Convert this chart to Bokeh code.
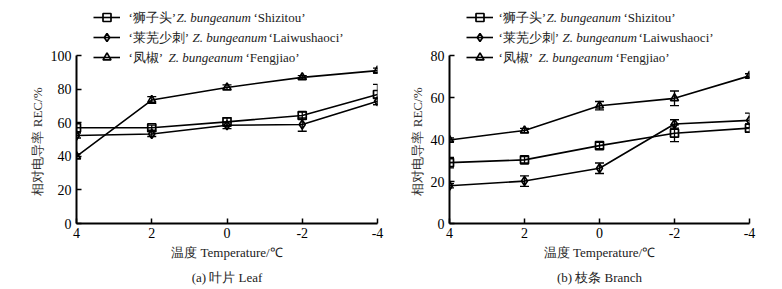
from bokeh.plotting import figure
from bokeh.layouts import row
from bokeh.models import (Range1d, Whisker, TeeHead, ColumnDataSource, Label,
                          Legend, LegendItem, FixedTicker, Title)
from bokeh.embed import file_html
from bokeh.resources import INLINE

# ---------------- data ----------------
temps = [4, 2, 0, -2, -4]
x_ticks = [4, 2, 0, -2, -4]
x_tick_labels = ["4", "2", "0", "-2", "-4"]

names_cn = ["‘狮子头’", "‘莱芜少刺’", "‘凤椒’"]
names_latin = ["Z. bungeanum", "Z. bungeanum", "Z. bungeanum"]
names_en = ["‘Shizitou’", "‘Laiwushaoci’", "‘Fengjiao’"]
markers = ["square", "diamond", "triangle"]

# (a) Leaf
leaf_shizitou = [57.0, 57.0, 60.5, 64.3, 76.8]
leaf_shizitou_err = [3.0, 1.5, 2.5, 2.0, 6.0]
leaf_laiwushaoci = [52.4, 53.3, 58.5, 58.9, 72.8]
leaf_laiwushaoci_err = [1.5, 1.5, 2.0, 4.0, 2.0]
leaf_fengjiao = [40.0, 73.5, 81.0, 87.0, 91.0]
leaf_fengjiao_err = [1.5, 2.0, 1.5, 1.0, 1.5]
leaf_yticks = [0, 20, 40, 60, 80, 100]

# (b) Branch
branch_shizitou = [29.0, 30.3, 37.1, 43.0, 45.4]
branch_shizitou_err = [2.5, 1.5, 1.5, 4.0, 2.0]
branch_laiwushaoci = [18.0, 20.2, 26.3, 47.4, 49.1]
branch_laiwushaoci_err = [1.0, 2.5, 2.5, 2.0, 3.5]
branch_fengjiao = [39.8, 44.3, 56.1, 59.6, 70.3]
branch_fengjiao_err = [1.0, 1.0, 2.0, 3.5, 1.0]
branch_yticks = [0, 20, 40, 60, 80]

x_label = "温度 Temperature/℃"
y_label = "相对电导率 REC/%"
captions = ["(a) 叶片 Leaf", "(b) 枝条 Branch"]

FONT = "Liberation Serif"
W, H = 391, 289
TOP, BOTTOM = 5, 66
MARKER_SIZE = {"square": 8, "diamond": 9, "triangle": 8}


def make_panel(series, errs, yticks, caption, min_left, min_right, text_gap):
    frame_w = W - min_left - min_right
    frame_h = H - TOP - BOTTOM
    y_axis_max = yticks[-1]
    px_per_y = 168.0 / y_axis_max
    y_top = frame_h / px_per_y
    px_per_x = frame_w / 8.0

    def xd(px):  # pixel offset from frame left -> data x
        return 4 - px / px_per_x

    def yd(py):  # pixel offset from frame top -> data y
        return (frame_h - py) / px_per_y

    p = figure(width=W, height=H, x_range=Range1d(4, -4), y_range=Range1d(0, y_top),
               output_backend="svg", toolbar_location=None,
               min_border_left=min_left, min_border_right=min_right,
               min_border_top=TOP, min_border_bottom=BOTTOM)
    p.outline_line_color = None
    p.grid.visible = False
    p.background_fill_color = "white"

    for ax in (p.xaxis[0], p.yaxis[0]):
        ax.axis_line_width = 2
        ax.axis_line_color = "black"
        ax.major_tick_line_width = 1.5
        ax.major_tick_line_color = "black"
        ax.major_tick_in = 5
        ax.major_tick_out = 0
        ax.minor_tick_line_color = None
        ax.major_label_text_font = FONT
        ax.major_label_text_font_size = "14px"
        ax.major_label_text_color = "black"
    p.xaxis.ticker = FixedTicker(ticks=x_ticks)
    p.xaxis.major_label_overrides = {t: s for t, s in zip(x_ticks, x_tick_labels)}
    p.xaxis.bounds = (-4, 4)
    p.xaxis.major_label_standoff = 4
    p.xaxis.axis_label = x_label
    p.xaxis.axis_label_text_font = FONT
    p.xaxis.axis_label_text_font_style = "normal"
    p.xaxis.axis_label_text_font_size = "13px"
    p.xaxis.axis_label_text_color = "#222222"
    p.xaxis.axis_label_standoff = 4
    p.yaxis.ticker = FixedTicker(ticks=yticks)
    p.yaxis.bounds = (0, y_axis_max)
    p.yaxis.major_label_standoff = 5

    p.add_layout(Title(text=caption, align="center", text_font=FONT,
                       text_font_size="13px", text_font_style="normal",
                       text_color="#222222"), "below")
    # y-axis title as a left-side title, anchored near the bottom of the axis
    p.add_layout(Title(text=y_label, align="left", offset=28, standoff=6,
                       text_font=FONT, text_font_size="13px",
                       text_font_style="normal", text_color="#333333"), "left")

    items = []
    for (vals, err, mk) in zip(series, errs, markers):
        src = ColumnDataSource(dict(x=temps, y=vals,
                                    upper=[v + e for v, e in zip(vals, err)],
                                    lower=[v - e for v, e in zip(vals, err)]))
        w = Whisker(base="x", upper="upper", lower="lower", source=src,
                    line_color="black", line_width=1.3, level="glyph",
                    upper_head=TeeHead(size=9, line_width=1.3, line_color="black"),
                    lower_head=TeeHead(size=9, line_width=1.3, line_color="black"))
        p.add_layout(w)
        rl = p.line("x", "y", source=src, line_color="black", line_width=1.6)
        rs = p.scatter("x", "y", source=src, marker=mk, size=MARKER_SIZE[mk],
                       fill_alpha=0, line_color="black", line_width=1.7)
        items.append(LegendItem(label=" ", renderers=[rl, rs]))

    leg = Legend(items=items, location=(17, frame_h - 62), glyph_width=27,
                 glyph_height=20, label_height=20, label_width=0, label_standoff=0,
                 spacing=0, padding=0, margin=0, border_line_color=None,
                 background_fill_alpha=0, label_text_font_size="1px")
    p.add_layout(leg, "center")

    row_py = [12, 32, 52]
    z_off = [48, 64, 40]
    en_off = [125, 140, 117]
    tx = xd(17 + text_gap)
    for i in range(3):
        ty = yd(row_py[i])
        p.add_layout(Label(x=tx, y=ty, text=names_cn[i], text_font=FONT,
                           text_font_size="13px", text_baseline="middle",
                           text_color="#222222"))
        p.add_layout(Label(x=tx, y=ty, x_offset=z_off[i], text=names_latin[i],
                           text_font=FONT, text_font_style="italic",
                           text_font_size="13px", text_baseline="middle",
                           text_color="#222222"))
        p.add_layout(Label(x=tx, y=ty, x_offset=en_off[i], text=names_en[i],
                           text_font=FONT, text_font_size="13px",
                           text_baseline="middle", text_color="#222222"))
    return p


p1 = make_panel([leaf_shizitou, leaf_laiwushaoci, leaf_fengjiao],
                [leaf_shizitou_err, leaf_laiwushaoci_err, leaf_fengjiao_err],
                leaf_yticks, captions[0], 76, 14, 35)
p2 = make_panel([branch_shizitou, branch_laiwushaoci, branch_fengjiao],
                [branch_shizitou_err, branch_laiwushaoci_err, branch_fengjiao_err],
                branch_yticks, captions[1], 58, 33, 32)

layout = row(p1, p2)
open("out.html", "w").write(file_html(layout, INLINE))
